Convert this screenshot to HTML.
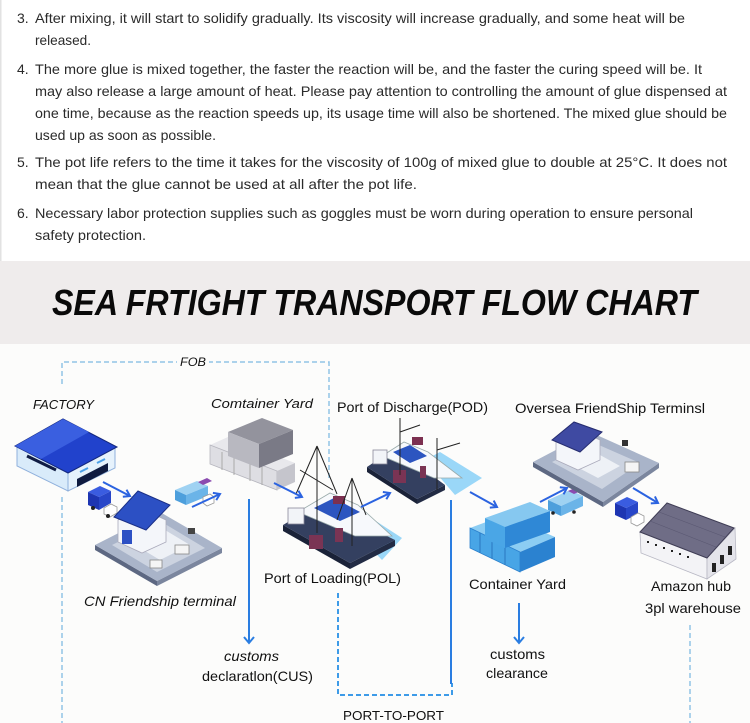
<!DOCTYPE html>
<html><head><meta charset="utf-8"><style>
html,body{margin:0;padding:0;background:#fff;}
svg{display:block;}
</style></head><body>
<svg width="750" height="723" viewBox="0 0 750 723" xmlns="http://www.w3.org/2000/svg" font-family="Liberation Sans, sans-serif">
<defs>
<marker id="ah" markerWidth="10" markerHeight="10" refX="7" refY="5" orient="auto" markerUnits="userSpaceOnUse">
<path d="M1,1 L7,5 L1,9" fill="none" stroke="#2b63e0" stroke-width="2"/>
</marker>
</defs>
<rect width="750" height="723" fill="#fcfcfb"/>
<rect x="0" y="0" width="750" height="261" fill="#fff"/>
<rect x="0" y="0" width="1.5" height="261" fill="#e2e2e2"/>
<rect x="0" y="261" width="750" height="83" fill="#efecec"/>

<g font-size="14" fill="#2a2a2a">
<text x="17" y="23">3.</text>
<text x="35" y="23" textLength="650" lengthAdjust="spacingAndGlyphs">After mixing, it will start to solidify gradually. Its viscosity will increase gradually, and some heat will be</text>
<text x="35" y="45" textLength="56" lengthAdjust="spacingAndGlyphs">released.</text>
<text x="17" y="74">4.</text>
<text x="35" y="74" textLength="667" lengthAdjust="spacingAndGlyphs">The more glue is mixed together, the faster the reaction will be, and the faster the curing speed will be. It</text>
<text x="35" y="96" textLength="692" lengthAdjust="spacingAndGlyphs">may also release a large amount of heat. Please pay attention to controlling the amount of glue dispensed at</text>
<text x="35" y="118" textLength="692" lengthAdjust="spacingAndGlyphs">one time, because as the reaction speeds up, its usage time will also be shortened. The mixed glue should be</text>
<text x="35" y="140" textLength="181" lengthAdjust="spacingAndGlyphs">used up as soon as possible.</text>
<text x="17" y="167">5.</text>
<text x="35" y="167" textLength="692" lengthAdjust="spacingAndGlyphs">The pot life refers to the time it takes for the viscosity of 100g of mixed glue to double at 25°C. It does not</text>
<text x="35" y="189" textLength="382" lengthAdjust="spacingAndGlyphs">mean that the glue cannot be used at all after the pot life.</text>
<text x="17" y="218">6.</text>
<text x="35" y="218" textLength="658" lengthAdjust="spacingAndGlyphs">Necessary labor protection supplies such as goggles must be worn during operation to ensure personal</text>
<text x="35" y="240" textLength="111" lengthAdjust="spacingAndGlyphs">safety protection.</text>
</g>

<text x="52" y="315" font-size="36" font-weight="bold" font-style="italic" fill="#0a0a0a" textLength="645" lengthAdjust="spacingAndGlyphs">SEA FRTIGHT TRANSPORT FLOW CHART</text>

<!-- dashed connectors -->
<g fill="none" stroke="#92c4e6" stroke-width="1.5" stroke-dasharray="5,3">
<path d="M62,384 V362 H329 V478"/>
<path d="M62,497 V723"/>
<path d="M690,625 V723"/>
</g>
<rect x="177" y="354" width="32" height="14" fill="#fcfcfb"/>
<text x="180" y="366" font-size="12" font-style="italic" fill="#111" textLength="26" lengthAdjust="spacingAndGlyphs">FOB</text>

<path d="M338,593 V695 H452 V683" fill="none" stroke="#3d9be8" stroke-width="2" stroke-dasharray="5,3"/>
<path d="M451,500 V684" stroke="#2a7de1" stroke-width="2"/>
<path d="M249,499 V643" stroke="#2a7de1" stroke-width="2"/>
<path d="M244,637 L249,643 L254,637" fill="none" stroke="#2a7de1" stroke-width="2"/>
<path d="M519,603 V643" stroke="#2a7de1" stroke-width="2"/>
<path d="M514,637 L519,643 L524,637" fill="none" stroke="#2a7de1" stroke-width="2"/>

<!-- Factory -->
<polygon points="17,446 68,471 68,491 17,466" fill="#d9ebfa" stroke="#8fb0dc" stroke-width="1"/>
<polygon points="68,471 115,447 115,468 68,491" fill="#e6f2fc" stroke="#8fb0dc" stroke-width="1"/>
<line x1="27" y1="456" x2="56" y2="470" stroke="#101c44" stroke-width="3"/>
<polygon points="77,479 108,463 108,471 77,487" fill="#0f1b40"/>
<line x1="80" y1="472" x2="88" y2="468" stroke="#4ca0e8" stroke-width="2"/>
<line x1="97" y1="463" x2="105" y2="459" stroke="#4ca0e8" stroke-width="2"/>
<polygon points="15,446 63,419 117,447 68,473" fill="#2142cc" stroke="#14287e" stroke-width="1"/>
<polygon points="15,446 63,419 89,432 41,459" fill="#3a5fe0"/>

<!-- truck 1 -->
<polygon points="88,492 100,486 111,491 99,497" fill="#3a5ce0"/>
<polygon points="88,492 99,497 99,510 88,505" fill="#1d35b2"/>
<polygon points="99,497 111,491 111,503 99,510" fill="#2846c8"/>
<polygon points="104,508 111,504 117,507 117,513 110,517 104,514" fill="#fff" stroke="#999" stroke-width="0.8"/>
<circle cx="93" cy="508" r="2" fill="#222"/><circle cx="108" cy="516" r="2" fill="#222"/>

<!-- CN terminal -->
<polygon points="95,545 157,581 157,586 95,550" fill="#5d6882"/>
<polygon points="157,581 222,548 222,553 157,586" fill="#7b869e"/>
<polygon points="95,545 160,512 222,548 157,581" fill="#a9b4c9"/>
<polygon points="112,545 160,521 205,548 157,572" fill="#ccd3e0"/>
<polygon points="135,545 165,530 190,545 160,560" fill="#eef1f6"/>
<polygon points="118,520 142,509 166,520 166,542 142,553 118,542" fill="#f4f6fa" stroke="#aab" stroke-width="0.8"/>
<polygon points="114,517 138,491 170,505 146,530" fill="#2c50c4" stroke="#1a2f86" stroke-width="1"/>
<rect x="122" y="530" width="10" height="14" fill="#2c50c4"/>
<rect x="175" y="545" width="14" height="9" fill="#f5f5f5" stroke="#888" stroke-width="0.8"/>
<rect x="150" y="560" width="12" height="8" fill="#f5f5f5" stroke="#888" stroke-width="0.8"/>
<rect x="188" y="528" width="7" height="6" fill="#444"/>

<!-- truck 2 -->
<polygon points="175,490 197,481 208,486 186,495" fill="#9fd2f2"/>
<polygon points="175,490 186,495 186,505 175,500" fill="#4d9fdc"/>
<polygon points="186,495 208,486 208,496 186,505" fill="#6bb4e8"/>
<polygon points="198,482 207,478 212,481 203,485" fill="#8b4bb0"/>
<polygon points="203,497 210,494 214,497 214,503 207,506 203,503" fill="#fff" stroke="#999" stroke-width="0.8"/>

<!-- Container yard gray -->
<polygon points="210,445 228,437 295,463 277,471" fill="#e8e8ec"/>
<polygon points="210,445 277,471 277,490 210,464" fill="#dedee3" stroke="#b5b5bd" stroke-width="0.8"/>
<polygon points="277,471 295,463 295,482 277,490" fill="#c5c5cc"/>
<line x1="222" y1="452" x2="222" y2="470" stroke="#aaa"/><line x1="234" y1="456" x2="234" y2="475" stroke="#aaa"/>
<line x1="250" y1="462" x2="250" y2="481" stroke="#aaa"/><line x1="262" y1="467" x2="262" y2="485" stroke="#aaa"/>
<polygon points="228,432 262,418 293,430 259,444" fill="#93939d"/>
<polygon points="228,432 259,444 259,468 228,456" fill="#b8b8c0"/>
<polygon points="259,444 293,430 293,454 259,468" fill="#7a7a86"/>

<!-- POL ship -->
<polygon points="345,522 362,512 402,538 382,560" fill="#8fd3f7" opacity="0.9"/>
<polygon points="283,525 350,563 350,569 283,531" fill="#1a2238"/>
<polygon points="350,563 395,540 395,546 350,569" fill="#222b44"/>
<polygon points="283,525 320,503 395,540 350,563" fill="#344060"/>
<polygon points="298,512 330,493 358,505 392,536 355,536" fill="#f7f9fc" stroke="#9aa" stroke-width="0.8"/>
<polygon points="314,508 334,498 360,512 340,521" fill="#2c55c0"/>
<rect x="333" y="496" width="12" height="8" fill="#7c3050"/>
<rect x="288" y="508" width="16" height="16" fill="#f2f4f8" stroke="#889" stroke-width="0.8"/>
<rect x="309" y="535" width="14" height="14" fill="#7a3454"/>
<rect x="335" y="528" width="8" height="14" fill="#7a3454"/>
<g stroke="#222" stroke-width="1" fill="none">
<path d="M317,446 V533 M317,446 L296,494 M317,446 L337,494 M300,470 L333,490"/>
<path d="M352,478 V546 M352,478 L337,520 M352,478 L366,515"/>
</g>

<!-- POD ship -->
<polygon points="425,460 440,452 482,478 455,495" fill="#8fd3f7" opacity="0.9"/>
<polygon points="367,467 417,499 417,504 367,472" fill="#1a2238"/>
<polygon points="417,499 445,485 445,490 417,504" fill="#222b44"/>
<polygon points="367,467 395,448 445,485 417,499" fill="#344060"/>
<polygon points="382,456 404,442 428,452 462,478 434,478" fill="#f7f9fc" stroke="#9aa" stroke-width="0.8"/>
<polygon points="393,452 410,445 427,456 410,463" fill="#2c55c0"/>
<rect x="412" y="437" width="11" height="8" fill="#7c3050"/>
<rect x="373" y="450" width="14" height="14" fill="#f2f4f8" stroke="#889" stroke-width="0.8"/>
<rect x="393" y="470" width="13" height="13" fill="#7a3454"/>
<rect x="420" y="466" width="6" height="12" fill="#7a3454"/>
<g stroke="#222" stroke-width="1" fill="none">
<path d="M400,418 V475 M400,432 L420,425"/>
<path d="M437,438 V490 M437,450 L460,443"/>
</g>

<!-- Container yard blue -->
<polygon points="470,528 505,515 555,537 520,552" fill="#8ccdf3"/>
<polygon points="470,528 520,552 520,572 470,548" fill="#48a5e6" stroke="#2a7fcc" stroke-width="0.8"/>
<polygon points="520,552 555,537 555,557 520,572" fill="#2b82d0"/>
<line x1="480" y1="533" x2="480" y2="553" stroke="#2a78c0"/><line x1="492" y1="539" x2="492" y2="559" stroke="#2a78c0"/>
<line x1="505" y1="545" x2="505" y2="565" stroke="#2a78c0"/>
<polygon points="485,518 530,502 550,511 505,527" fill="#86c8f0"/>
<polygon points="485,518 505,527 505,548 485,539" fill="#4aa6e6"/>
<polygon points="505,527 550,511 550,532 505,548" fill="#2f88d6"/>

<!-- truck 3 -->
<polygon points="548,500 570,490 583,496 561,506" fill="#9fd2f2"/>
<polygon points="548,500 561,506 561,516 548,510" fill="#4d9fdc"/>
<polygon points="561,506 583,496 583,506 561,516" fill="#6bb4e8"/>
<polygon points="568,491 577,487 583,490 574,494" fill="#8b4bb0"/>
<circle cx="553" cy="513" r="1.8" fill="#222"/><circle cx="574" cy="512" r="1.8" fill="#222"/>

<!-- Oversea terminal -->
<polygon points="533,462 603,502 603,507 533,467" fill="#5d6882"/>
<polygon points="603,502 659,463 659,468 603,507" fill="#7b869e"/>
<polygon points="533,462 590,432 659,463 603,502" fill="#a9b4c9"/>
<polygon points="552,462 592,442 640,463 602,489" fill="#ccd3e0"/>
<polygon points="575,466 600,455 620,466 598,478" fill="#eef1f6"/>
<polygon points="556,440 578,430 600,440 600,460 578,470 556,460" fill="#f4f6fa" stroke="#aab" stroke-width="0.8"/>
<polygon points="552,440 574,422 602,432 580,452" fill="#3f4aa2" stroke="#262d70" stroke-width="1"/>
<rect x="625" y="462" width="14" height="10" fill="#f5f5f5" stroke="#888" stroke-width="0.8"/>
<rect x="622" y="440" width="6" height="6" fill="#333"/>

<!-- truck 4 blue -->
<polygon points="615,503 627,497 638,502 626,508" fill="#3a5ce0"/>
<polygon points="615,503 626,508 626,520 615,515" fill="#1d35b2"/>
<polygon points="626,508 638,502 638,514 626,520" fill="#2846c8"/>
<polygon points="631,517 638,513 644,516 644,522 637,526 631,523" fill="#fff" stroke="#999" stroke-width="0.8"/>

<!-- Amazon warehouse -->
<polygon points="640,532 707,558 707,579 641,553" fill="#f3f3f6" stroke="#b8b8c4" stroke-width="0.8"/>
<polygon points="707,558 735,528 736,559 707,579" fill="#e4e4ea" stroke="#b8b8c4" stroke-width="0.8"/>
<polygon points="640,532 667,503 734,528 707,558" fill="#6f6d86" stroke="#3f3d55" stroke-width="1"/>
<g stroke="#5a5872" stroke-width="0.6">
<line x1="650" y1="521" x2="716" y2="547"/><line x1="659" y1="512" x2="725" y2="537"/>
</g>
<g fill="#222">
<rect x="712" y="563" width="4" height="9"/><rect x="720" y="555" width="4" height="9"/><rect x="728" y="546" width="4" height="9"/>
<rect x="647" y="541" width="2" height="2"/><rect x="655" y="544" width="2" height="2"/><rect x="663" y="547" width="2" height="2"/><rect x="671" y="550" width="2" height="2"/><rect x="679" y="553" width="2" height="2"/><rect x="687" y="556" width="2" height="2"/>
</g>

<!-- diagonal arrows -->
<g stroke="#2b63e0" stroke-width="2" fill="none" marker-end="url(#ah)">
<line x1="103" y1="482" x2="130" y2="496"/>
<line x1="192" y1="507" x2="220" y2="494"/>
<line x1="274" y1="483" x2="302" y2="497"/>
<line x1="361" y1="507" x2="390" y2="493"/>
<line x1="470" y1="492" x2="497" y2="507"/>
<line x1="540" y1="502" x2="567" y2="488"/>
<line x1="633" y1="488" x2="658" y2="503"/>
</g>

<!-- labels -->
<g fill="#111" font-size="14">
<text x="33" y="409" font-size="13" font-style="italic" textLength="61" lengthAdjust="spacingAndGlyphs">FACTORY</text>
<text x="211" y="408" font-size="13" font-style="italic" textLength="102" lengthAdjust="spacingAndGlyphs">Comtainer Yard</text>
<text x="337" y="412" textLength="151" lengthAdjust="spacingAndGlyphs">Port of Discharge(POD)</text>
<text x="515" y="413" textLength="190" lengthAdjust="spacingAndGlyphs">Oversea FriendShip Terminsl</text>
<text x="264" y="583" textLength="137" lengthAdjust="spacingAndGlyphs">Port of Loading(POL)</text>
<text x="84" y="606" font-style="italic" textLength="152" lengthAdjust="spacingAndGlyphs">CN Friendship terminal</text>
<text x="469" y="589" textLength="97" lengthAdjust="spacingAndGlyphs">Container Yard</text>
<text x="651" y="591" textLength="80" lengthAdjust="spacingAndGlyphs">Amazon hub</text>
<text x="645" y="613" textLength="96" lengthAdjust="spacingAndGlyphs">3pl warehouse</text>
<text x="224" y="661" font-style="italic" textLength="55" lengthAdjust="spacingAndGlyphs">customs</text>
<text x="202" y="681" textLength="111" lengthAdjust="spacingAndGlyphs">declaratlon(CUS)</text>
<text x="490" y="659" textLength="55" lengthAdjust="spacingAndGlyphs">customs</text>
<text x="486" y="678" textLength="62" lengthAdjust="spacingAndGlyphs">clearance</text>
<text x="343" y="720" font-size="13" textLength="101" lengthAdjust="spacingAndGlyphs">PORT-TO-PORT</text>
</g>
</svg>
</body></html>
